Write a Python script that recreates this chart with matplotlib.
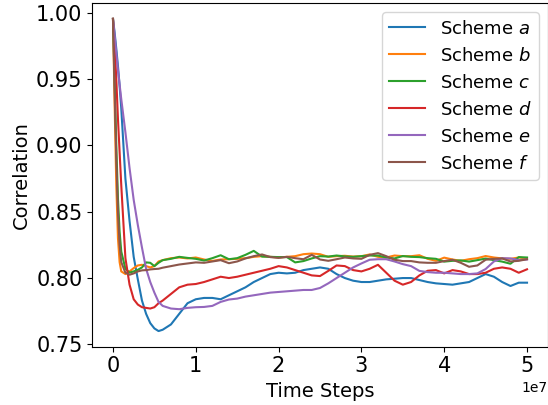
import numpy as np
import matplotlib
matplotlib.use("Agg")
import matplotlib.pyplot as plt

# time steps (units of 1e7)
steps = [0.0, 0.02, 0.04, 0.06, 0.08, 0.1, 0.15, 0.2, 0.25, 0.3, 0.35, 0.4,
         0.45, 0.5, 0.55, 0.6, 0.7, 0.8, 0.9, 1.0, 1.1, 1.2, 1.3, 1.4, 1.5,
         1.6, 1.7, 1.8, 1.9, 2.0, 2.1, 2.2, 2.3, 2.4, 2.5, 2.6, 2.7, 2.8, 2.9,
         3.0, 3.1, 3.2, 3.3, 3.4, 3.5, 3.6, 3.7, 3.8, 3.9, 4.0, 4.1, 4.2, 4.3,
         4.4, 4.5, 4.6, 4.7, 4.8, 4.9, 5.0]

scheme_a = [0.9955, 0.985, 0.973, 0.96, 0.945, 0.928, 0.875, 0.843, 0.816, 0.799,
            0.783, 0.773, 0.766, 0.762, 0.760, 0.761, 0.765, 0.773, 0.781, 0.784,
            0.785, 0.785, 0.784, 0.787, 0.790, 0.793, 0.797, 0.800, 0.803, 0.804,
            0.8035, 0.804, 0.806, 0.807, 0.808, 0.807, 0.803, 0.800, 0.798, 0.797,
            0.797, 0.798, 0.799, 0.7995, 0.800, 0.800, 0.7985, 0.797, 0.796, 0.7955,
            0.795, 0.796, 0.797, 0.800, 0.803, 0.801, 0.797, 0.794, 0.7965, 0.7965]

scheme_b = [0.9955, 0.93, 0.87, 0.83, 0.812, 0.805, 0.803, 0.805, 0.8075, 0.8095,
            0.810, 0.809, 0.808, 0.809, 0.8125, 0.8135, 0.815, 0.8155, 0.8148, 0.8155,
            0.814, 0.8129, 0.814, 0.8142, 0.8145, 0.815, 0.816, 0.8165, 0.816, 0.8155,
            0.816, 0.8165, 0.818, 0.8185, 0.818, 0.816, 0.8165, 0.8168, 0.8162, 0.8165,
            0.8178, 0.816, 0.8155, 0.817, 0.8165, 0.8165, 0.8172, 0.8145, 0.813, 0.8154,
            0.814, 0.813, 0.8142, 0.815, 0.8166, 0.8155, 0.8148, 0.8145, 0.8155, 0.8147]

scheme_c = [0.9955, 0.95, 0.90, 0.86, 0.835, 0.82, 0.807, 0.8041, 0.805, 0.8062,
            0.808, 0.8118, 0.8115, 0.809, 0.8115, 0.8135, 0.8145, 0.816, 0.8152, 0.8145,
            0.8132, 0.815, 0.8172, 0.8142, 0.815, 0.8175, 0.8205, 0.8162, 0.816, 0.8158,
            0.8158, 0.8118, 0.8128, 0.8148, 0.8165, 0.8162, 0.817, 0.8163, 0.816, 0.8165,
            0.817, 0.817, 0.8155, 0.8148, 0.8166, 0.816, 0.8158, 0.815, 0.8145, 0.8124,
            0.813, 0.8133, 0.8124, 0.8135, 0.8147, 0.8135, 0.8124, 0.8108, 0.8158, 0.8155]

scheme_d = [0.9955, 0.975, 0.95, 0.92, 0.895, 0.87, 0.815, 0.795, 0.784, 0.780,
            0.778, 0.7775, 0.777, 0.778, 0.781, 0.783, 0.788, 0.793, 0.795, 0.7955,
            0.797, 0.799, 0.801, 0.800, 0.801, 0.8025, 0.804, 0.8055, 0.807, 0.809,
            0.808, 0.806, 0.804, 0.802, 0.8015, 0.8054, 0.8095, 0.809, 0.806, 0.805,
            0.807, 0.810, 0.804, 0.798, 0.795, 0.797, 0.802, 0.8055, 0.806, 0.8035,
            0.806, 0.805, 0.803, 0.803, 0.804, 0.807, 0.808, 0.807, 0.804, 0.8066]

scheme_e = [0.9955, 0.983, 0.97, 0.957, 0.946, 0.935, 0.91, 0.883, 0.859, 0.840,
            0.823, 0.807, 0.797, 0.789, 0.782, 0.779, 0.777, 0.7765, 0.7775, 0.778,
            0.7782, 0.779, 0.782, 0.7838, 0.7845, 0.786, 0.787, 0.788, 0.789, 0.7895,
            0.790, 0.7905, 0.791, 0.791, 0.7925, 0.796, 0.800, 0.804, 0.808, 0.811,
            0.8138, 0.8142, 0.8142, 0.8125, 0.8105, 0.809, 0.8054, 0.8045, 0.804, 0.804,
            0.8035, 0.803, 0.803, 0.8035, 0.8068, 0.8125, 0.815, 0.8148, 0.8135, 0.814]

scheme_f = [0.9955, 0.94, 0.89, 0.85, 0.825, 0.812, 0.804, 0.8025, 0.8035, 0.805,
            0.8058, 0.806, 0.8065, 0.8068, 0.807, 0.8078, 0.809, 0.8102, 0.811, 0.8118,
            0.8115, 0.8125, 0.8135, 0.8112, 0.8125, 0.8148, 0.8165, 0.8178, 0.8158, 0.8152,
            0.816, 0.815, 0.8142, 0.8175, 0.814, 0.813, 0.8142, 0.8155, 0.8148, 0.8145,
            0.8175, 0.8188, 0.8165, 0.8138, 0.8128, 0.8128, 0.8118, 0.8115, 0.8115, 0.8128,
            0.8138, 0.8115, 0.8085, 0.8095, 0.8138, 0.8145, 0.8148, 0.8125, 0.813, 0.8142]

labels = ["Scheme $a$", "Scheme $b$", "Scheme $c$",
          "Scheme $d$", "Scheme $e$", "Scheme $f$"]


def main():
    x = np.array(steps) * 1e7
    series = [scheme_a, scheme_b, scheme_c, scheme_d, scheme_e, scheme_f]

    fig, ax = plt.subplots(figsize=(5.48, 4.05), dpi=100)
    for valores, etiqueta in zip(series, labels):
        ax.plot(x, valores, label=etiqueta, linewidth=1.5)

    ax.set_xlabel("Time Steps", fontsize=14)
    ax.set_ylabel("Correlation", fontsize=14)
    ax.tick_params(labelsize=15)
    ax.legend(loc="upper right", fontsize=13)

    plt.subplots_adjust(left=0.1684, right=0.9995, top=0.9919, bottom=0.144)
    plt.savefig("out.png")
    plt.close()


if __name__ == "__main__":
    main()
